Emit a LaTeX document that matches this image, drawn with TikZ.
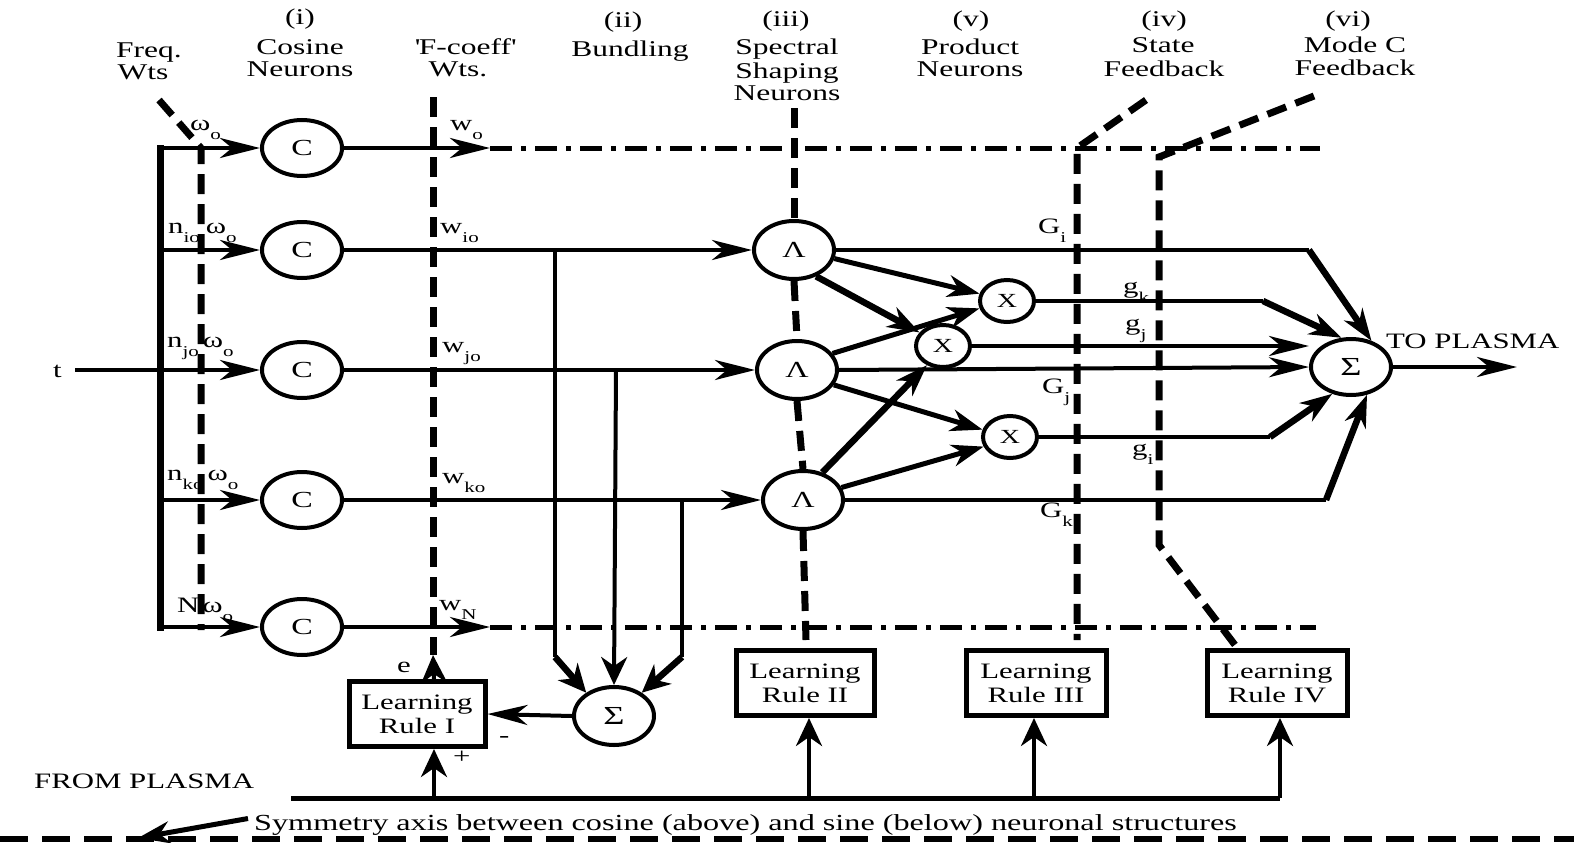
\documentclass[tikz,border=0pt]{standalone}
\usepackage{fontspec}
\setmainfont{Liberation Serif}[FakeStretch=1.4]
\usetikzlibrary{arrows.meta,shapes.geometric}
\newcommand\sbs[1]{\raisebox{-9pt}{\fontsize{15}{15}\selectfont #1}}
\begin{document}
\begin{tikzpicture}[x=1pt,y=-1pt,
  ln/.style={line width=4pt},
  thk/.style={line width=6.5pt},
  bus/.style={line width=7pt},
  dsh/.style={line width=7pt, dash pattern=on 20pt off 10pt},
  dd/.style={line width=5pt, dash pattern=on 22pt off 9pt on 5pt off 9pt},
  bdsh/.style={line width=6pt, dash pattern=on 28pt off 14pt},
  harr/.style={-{Stealth[length=40pt,width=20pt,inset=12pt]}},
  varr/.style={-{Stealth[length=28pt,width=26pt,inset=9pt]}},
  darr/.style={-{Stealth[length=32pt,width=22pt,inset=10pt]}},
  neu/.style={draw, ellipse, line width=4pt, inner sep=0pt, minimum width=80pt, minimum height=56pt, font=\fontsize{23}{23}\selectfont},
  xneu/.style={neu, minimum width=54pt, minimum height=42pt, font=\fontsize{20}{20}\selectfont},
  sneu/.style={neu, font=\fontsize{26}{26}\selectfont},
  rulebox/.style={draw, line width=5pt, minimum width=136pt, minimum height=65pt, inner sep=0pt, align=center, font=\fontsize{22}{24}\selectfont},
  txt/.style={inner sep=0pt, anchor=base, font=\fontsize{22.5}{22.5}\selectfont},
  lab/.style={inner sep=0pt, anchor=base west, font=\fontsize{22}{22}\selectfont}]
\useasboundingbox (0,0) rectangle (1574,843);

% ---- headings
\node[txt] (h1a) at (300,25) {(i)};
\node[txt] (h1b) at (300,55) {Cosine};
\node[txt] (h1c) at (300,77) {Neurons};
\node[txt] (h0a) at (149,58) {Freq.};
\node[txt] (h0b) at (143,80) {Wts};
\node[txt] (hfa) at (465,55) {\textquotesingle F-coeff\textquotesingle};
\node[txt] (hfb) at (458,77) {Wts.};
\node[txt] (h2a) at (623,28) {(ii)};
\node[txt] (h2b) at (630,57) {Bundling};
\node[txt] (h3a) at (786,27) {(iii)};
\node[txt] (h3b) at (787,55) {Spectral};
\node[txt] (h3c) at (787,78) {Shaping};
\node[txt] (h3d) at (787,100) {Neurons};
\node[txt] (h5a) at (971,27) {(v)};
\node[txt] (h5b) at (970,55) {Product};
\node[txt] (h5c) at (970,77) {Neurons};
\node[txt] (h4a) at (1164,27) {(iv)};
\node[txt] (h4b) at (1163,53) {State};
\node[txt] (h4c) at (1164,77) {Feedback};
\node[txt] (h6a) at (1348,27) {(vi)};
\node[txt] (h6b) at (1355,53) {Mode C};
\node[txt] (h6c) at (1355,75) {Feedback};

% ---- dashed guide lines
\coordinate (fw1) at (159,100); \coordinate (fw2) at (201,148); \coordinate (fw3) at (201,630);
\coordinate (fc1) at (433,97);  \coordinate (fc2) at (433,655);
\coordinate (sp1) at (794,108); \coordinate (sp2) at (806,640);
\coordinate (st1) at (1146,100); \coordinate (st2) at (1077,148); \coordinate (st3) at (1077,640);
\coordinate (mc1) at (1314,96); \coordinate (mc2) at (1159,157); \coordinate (mc3) at (1159,545); \coordinate (mc4) at (1235,645);
\draw[dsh] (fw1) -- (fw2) -- (fw3);
\draw[dsh] (fc1) -- (fc2);
\draw[dsh] (st1) -- (st2) -- (st3);
\draw[dsh] (mc1) -- (mc2) -- (mc3) -- (mc4);

% ---- bus and input
\coordinate (b0) at (160,148); \coordinate (b1) at (160,250); \coordinate (b2) at (160,370);
\coordinate (b3) at (160,500); \coordinate (b4) at (160,627);
\node[lab] (t) at (53,377) {t};
\coordinate (tin) at (75,370);
\draw[ln] (tin) -- (b2);
\draw[bus, line cap=rect] (b0) -- (b4);

% ---- cosine neurons
\node[neu] (C0) at (302,148) {C};
\node[neu] (C1) at (302,250) {C};
\node[neu] (C2) at (302,370) {C};
\node[neu] (C3) at (302,500) {C};
\node[neu] (C4) at (302,627) {C};
\foreach \i in {0,...,4} \draw[ln,harr] (b\i) -- (C\i.west);

% ---- labels at inputs
\node[lab] (lw0) at (190,130) {ω\sbs{o}};
\node[lab] (lw1) at (168,233) {n\sbs{io}\kern 6pt{}ω\sbs{o}};
\node[lab] (lw2) at (167,347) {n\sbs{jo}\kern 4pt{}ω\sbs{o}};
\node[lab] (lw3) at (167,480) {n\sbs{ko}\kern 4pt{}ω\sbs{o}};
\node[lab] (lw4) at (177,612) {N\kern 3pt{}ω\sbs{o}};
\node[lab] (lf0) at (450,130) {w\sbs{o}};
\node[lab] (lf1) at (440,233) {w\sbs{io}};
\node[lab] (lf2) at (442,352) {w\sbs{jo}};
\node[lab] (lf3) at (442,483) {w\sbs{ko}};
\node[lab] (lf4) at (439,610) {w\sbs{N}};

% ---- top and bottom rows
\coordinate (w0) at (490,148); \coordinate (d0) at (1320,148);
\coordinate (w4) at (490,627); \coordinate (d4) at (1316,627);
\draw[ln,harr] (C0.east) -- (w0);
\draw[ln,harr] (C4.east) -- (w4);
\draw[dd] (w0) -- (d0);
\draw[dd] (w4) -- (d4);

% ---- spectral shaping neurons
\node[neu, minimum height=58pt] (L1) at (794,250) {Λ};
\node[neu, minimum height=58pt] (L2) at (797,370) {Λ};
\node[neu, minimum height=58pt] (L3) at (803,500) {Λ};
\draw[ln,harr] (C1.east) -- (L1.west);
\draw[ln,harr] (C2.east) -- (L2.west);
\draw[ln,harr] (C3.east) -- (L3.west);
\draw[dsh] (sp1) -- (L1.north);
\draw[dsh] (L1.south) -- (L2.north);
\draw[dsh] (L2.south) -- (L3.north);
\draw[dsh] (L3.south) -- (sp2);

% ---- product neurons
\node[xneu] (X1) at (1007,301) {X};
\node[xneu] (X2) at (943,346) {X};
\node[xneu] (X3) at (1010,437) {X};
\draw[line width=5pt,darr] (L1.-12) -- (X1.165);
\draw[thk,darr] (L1.-50) -- (X2.150);
\draw[line width=5pt,darr] (L2.25) -- (X1.195);
\draw[line width=5pt,darr] (L2.-22) -- (X3.165);
\draw[thk,darr] (L3.55) -- (X2.230);
\draw[line width=5pt,darr] (L3.18) -- (X3.200);

% ---- output summation
\node[sneu] (S) at (1351,367) {Σ};
\coordinate (gi1) at (1309,250);
\coordinate (gk1) at (1263,301);
\coordinate (gii1) at (1270,437);
\coordinate (gkk1) at (1326,500);
\draw[ln] (L1.east) -- (gi1);
\draw[thk,darr] (gi1) -- (S.52);
\draw[ln] (X1.east) -- (gk1);
\draw[thk,darr] (gk1) -- (S.108);
\draw[ln,harr] (X2.east) -- (S.west |- X2.east);
\draw[ln,harr] (L2.east) -- (S.west);
\draw[ln] (X3.east) -- (gii1);
\draw[thk,darr] (gii1) -- (S.235);
\draw[ln] (L3.east) -- (gkk1);
\draw[thk,darr] (gkk1) -- (S.300);
\coordinate (out) at (1517,367);
\draw[ln,harr] (S.east) -- (out);
\node[lab] (top) at (1386,348) {TO PLASMA};

\node[lab] (lGi) at (1038,233) {G\sbs{i}};
\node[lab] (lgk) at (1123,293) {g\sbs{k}};
\node[lab] (lgj) at (1125,330) {g\sbs{j}};
\node[lab] (lGj) at (1042,393) {G\sbs{j}};
\node[lab] (lgi) at (1132,455) {g\sbs{i}};
\node[lab] (lGk) at (1040,517) {G\sbs{k}};

% ---- bundling
\node[sneu, minimum height=58pt] (B) at (614,716) {Σ};
\coordinate (bl0) at (555,250); \coordinate (bl1) at (555,657);
\coordinate (bm0) at (616,370);
\coordinate (br0) at (682,500); \coordinate (br1) at (682,657);
\draw[ln] (bl0) -- (bl1);
\draw[thk,varr] (bl1) -- (B.140);
\draw[ln,varr] (bm0) -- (B.north);
\draw[ln] (br0) -- (br1);
\draw[thk,varr] (br1) -- (B.40);

% ---- learning rules
\node[rulebox] (R1) at (417,714) {Learning\\Rule I};
\node[rulebox, minimum width=138pt] (R2) at (805,683) {Learning\\Rule II};
\node[rulebox, minimum width=140pt] (R3) at (1036,683) {Learning\\Rule III};
\node[rulebox, minimum width=140pt] (R4) at (1277,683) {Learning\\Rule IV};
\draw[ln,harr] (B.west) -- (R1.east);
\draw[ln,varr] ([xshift=17pt]R1.north) -- (fc2);
\node[lab] (le) at (397,672) {e};
\node[lab] (lminus) at (499,742) {-};
\node[lab] (lplus) at (453,763) {+};

\coordinate (busL) at (291,798);
\coordinate (busR) at (1280,798);
\draw[line width=5pt] (busL) -- (busR);
\draw[ln,varr] ([xshift=17pt]R1.south |- busL) -- ([xshift=17pt]R1.south);
\draw[ln,varr] ([xshift=4pt]R2.south |- busL) -- ([xshift=4pt]R2.south);
\draw[ln,varr] ([xshift=-2pt]R3.south |- busL) -- ([xshift=-2pt]R3.south);
\draw[ln,varr] ([xshift=3pt]R4.south |- busL) -- ([xshift=3pt]R4.south);

\node[lab] (fp) at (34,788) {FROM PLASMA};
\node[lab, font=\fontsize{23}{23}\selectfont] (sym) at (254,830) {Symmetry axis between cosine (above) and sine (below) neuronal structures};
\coordinate (sa2) at (138,838);
\draw[line width=5pt,darr] ([xshift=-6pt,yshift=6pt]sym.west) -- (sa2);
\coordinate (ax1) at (0,839); \coordinate (ax2) at (1574,839);
\draw[bdsh] (ax1) -- (ax2);
\end{tikzpicture}
\end{document}
